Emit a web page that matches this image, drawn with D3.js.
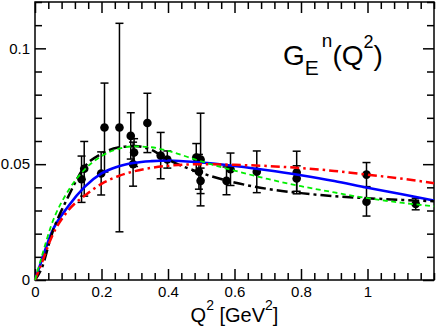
<!DOCTYPE html>
<html>
<head>
<meta charset="utf-8">
<script src="https://cdn.jsdelivr.net/npm/d3@7"></script>
<style>
  body { margin: 0; background: #fff; }
  svg { display: block; font-family: "Liberation Sans", Arial, Helvetica, sans-serif; }
</style>
</head>
<body>
<div id="chart"></div>
<script>
// curves on a fixed Q^2 grid
let qGrid = [0, 0.02, 0.05, 0.1, 0.15, 0.2, 0.25, 0.3, 0.35, 0.4, 0.5, 0.6, 0.7, 0.8, 0.9, 1.0, 1.1, 1.2];
let blueCurve = [0, 0.0085, 0.0205, 0.0318, 0.0403, 0.0460, 0.0490, 0.0506, 0.0513, 0.0516, 0.0507, 0.0492, 0.0474, 0.0452, 0.0427, 0.0398, 0.0371, 0.0343];
let redCurve = [0, 0.0072, 0.0185, 0.0300, 0.0365, 0.0415, 0.0448, 0.0470, 0.0484, 0.0493, 0.0500, 0.0497, 0.0492, 0.0483, 0.0471, 0.0455, 0.0438, 0.0418];
let greenCurve = [0, 0.0100, 0.0240, 0.0385, 0.0478, 0.0535, 0.0566, 0.0577, 0.0573, 0.0557, 0.0512, 0.0472, 0.0436, 0.0405, 0.0378, 0.0353, 0.0334, 0.0318];
let blackCurve = [0, 0.0050, 0.0195, 0.0360, 0.0490, 0.0545, 0.0572, 0.0578, 0.0562, 0.0520, 0.0462, 0.0421, 0.0393, 0.0375, 0.0362, 0.0353, 0.0346, 0.0340];

// measured points with error bars
let pointQ = [0.140, 0.148, 0.199, 0.209, 0.254, 0.288, 0.298, 0.295, 0.338, 0.378, 0.398, 0.485, 0.498, 0.493, 0.498, 0.576, 0.588, 0.667, 0.787, 0.787, 0.997, 0.997, 1.145];
let pointG = [0.0435, 0.0480, 0.0460, 0.0658, 0.0658, 0.0622, 0.0550, 0.0500, 0.0678, 0.0537, 0.0520, 0.0529, 0.0520, 0.0467, 0.0428, 0.0428, 0.0478, 0.0467, 0.0464, 0.0438, 0.0455, 0.0338, 0.0328];
let pointErr = [0.0100, 0.0118, 0.0093, 0.0192, 0.0450, 0.0100, 0.0060, 0.0095, 0.0128, 0.0100, 0.0037, 0.0060, 0.0200, 0.0075, 0.0055, 0.0060, 0.0070, 0.0090, 0.0092, 0.0055, 0.0052, 0.0062, 0.0025];

// axes
let xMajor = [0, 0.2, 0.4, 0.6, 0.8, 1.0];
let xTickLabels = ["0", "0.2", "0.4", "0.6", "0.8", "1"];
let yMajor = [0, 0.05, 0.1];
let yTickLabels = ["0", "0.05", "0.1"];

let w = 436, h = 330;
let margin = {left: 35, right: 2, top: 2, bottom: 50};
let width = w - margin.left - margin.right;
let height = h - margin.top - margin.bottom;

let x = d3.scaleLinear().domain([0, 1.2]).range([0, width]);
let y = d3.scaleLinear().domain([0, 0.12]).range([height, 0]);

let svg = d3.create("svg").attr("width", w).attr("height", h);
let g = svg.append("g").attr("transform", `translate(${margin.left}, ${margin.top})`);

// minor tick positions between the majors
let xMinor = d3.range(0, 1.2001, 0.04).filter(v => xMajor.every(m => Math.abs(m - v) > 1e-6));
let yMinor = d3.range(0, 0.1201, 0.01).filter(v => yMajor.every(m => Math.abs(m - v) > 1e-6));

function drawAxis(axisFn, transform, major, minor, labels, pad) {
    let gMaj = g.append("g").attr("transform", transform)
        .call(axisFn.tickValues(major).tickSize(-11).tickPadding(pad)
            .tickFormat((d, i) => labels ? labels[i] : ""));
    gMaj.select(".domain").remove();
    gMaj.selectAll("line").attr("stroke-width", 1.5);
    gMaj.selectAll("text").attr("font-size", 15).attr("font-family", null).attr("fill", "#000");
    let gMin = g.append("g").attr("transform", transform)
        .call(axisFn.tickValues(minor).tickSize(-7).tickFormat(""));
    gMin.select(".domain").remove();
    gMin.selectAll("line").attr("stroke-width", 1.5);
}

drawAxis(d3.axisBottom(x), `translate(0, ${height})`, xMajor, xMinor, xTickLabels, 6);
drawAxis(d3.axisTop(x), "translate(0, 0)", xMajor, xMinor, null, 6);
drawAxis(d3.axisLeft(y), "translate(0, 0)", yMajor, yMinor, yTickLabels, 5);
drawAxis(d3.axisRight(y), `translate(${width}, 0)`, yMajor, yMinor, null, 5);

// frame
g.append("rect")
    .attr("x", 0).attr("y", 0)
    .attr("width", width).attr("height", height)
    .attr("fill", "none").attr("stroke", "#000").attr("stroke-width", 1.5);

// data points with error bars
let pts = pointQ.map((q, i) => ({q: q, v: pointG[i], e: pointErr[i]}));
let gPts = g.append("g").attr("stroke", "#000").attr("stroke-width", 1.5);
pts.forEach(d => {
    let cx = x(d.q), y0 = y(d.v - d.e), y1 = y(d.v + d.e);
    gPts.append("line").attr("x1", cx).attr("x2", cx).attr("y1", y0).attr("y2", y1);
    gPts.append("line").attr("x1", cx - 4).attr("x2", cx + 4).attr("y1", y0).attr("y2", y0);
    gPts.append("line").attr("x1", cx - 4).attr("x2", cx + 4).attr("y1", y1).attr("y2", y1);
});
g.append("g").selectAll("circle")
    .data(pts)
    .join("circle")
    .attr("cx", d => x(d.q))
    .attr("cy", d => y(d.v))
    .attr("r", 4.3)
    .attr("fill", "#000");

// model curves
let line = d3.line()
    .curve(d3.curveMonotoneX)
    .x(d => x(d[0]))
    .y(d => y(d[1]));

let curves = [
    {vals: blueCurve, color: "#0000ff", width: 2.6, dash: null},
    {vals: blackCurve, color: "#000000", width: 2.5, dash: "11,4,3,4"},
    {vals: redCurve, color: "#ff0000", width: 2.5, dash: "9,4,2.5,4"},
    {vals: greenCurve, color: "#00ee00", width: 1.8, dash: "5,3.5"}
];
curves.forEach(c => {
    g.append("path")
        .datum(qGrid.map((q, i) => [q, c.vals[i]]))
        .attr("fill", "none")
        .attr("stroke", c.color)
        .attr("stroke-width", c.width)
        .attr("stroke-dasharray", c.dash)
        .attr("d", line);
});

// title G_E^n(Q^2)
let title = svg.append("text").attr("x", 283).attr("y", 65).attr("font-size", 28).attr("fill", "#000");
title.append("tspan").text("G");
title.append("tspan").attr("font-size", 21).attr("dy", 10).text("E");
title.append("tspan").attr("font-size", 19).attr("dx", 3).attr("dy", -28).text("n");
title.append("tspan").attr("font-size", 28).attr("dy", 18).text("(Q");
title.append("tspan").attr("font-size", 18).attr("dy", -17).text("2");
title.append("tspan").attr("font-size", 28).attr("dy", 17).text(")");

// x axis title
let xt = svg.append("text")
    .attr("x", margin.left + width / 2).attr("y", 322)
    .attr("text-anchor", "middle").attr("font-size", 20).attr("fill", "#000");
xt.append("tspan").text("Q");
xt.append("tspan").attr("font-size", 14).attr("dy", -12).text("2");
xt.append("tspan").attr("dy", 12).text(" [GeV");
xt.append("tspan").attr("font-size", 14).attr("dy", -12).text("2");
xt.append("tspan").attr("dy", 12).text("]");

d3.select("#chart").append(() => svg.node());
</script>
</body>
</html>
